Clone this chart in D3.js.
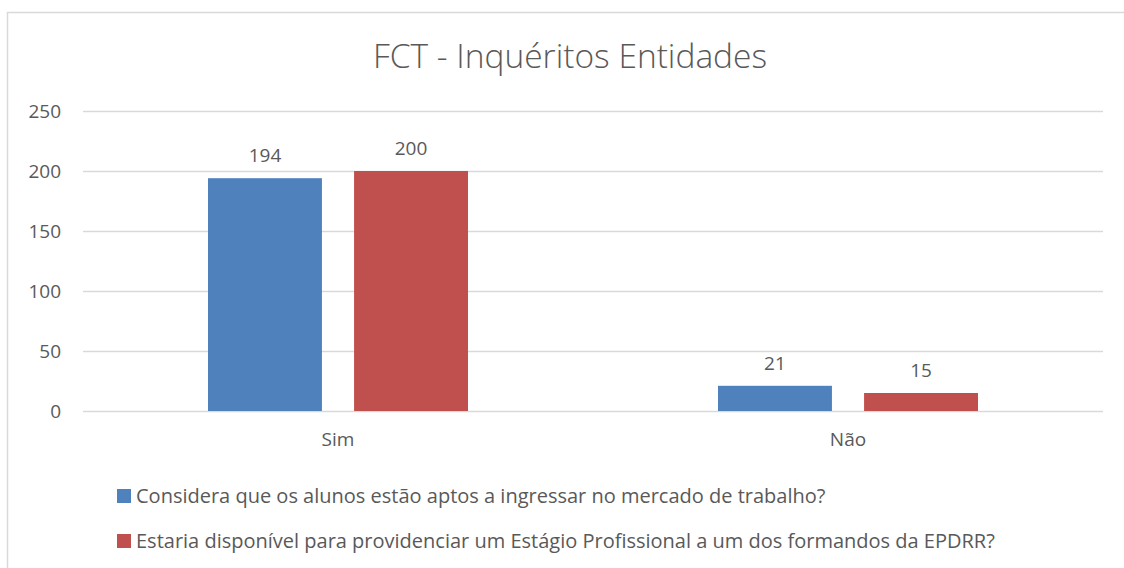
<!DOCTYPE html>
<html>
<head>
<meta charset="utf-8">
<script src="https://cdn.jsdelivr.net/npm/d3@7"></script>
<style>
  body { margin: 0; background: #fff; }
  svg text { font-family: "Open Sans", Lato, sans-serif; fill: #595959; }
</style>
</head>
<body>
<div id="chart"></div>
<script>
const WIDTH = 1124, HEIGHT = 568;
const M = { top: 111, right: 21, bottom: 157, left: 83 };
const innerW = WIDTH - M.left - M.right;
const innerH = HEIGHT - M.top - M.bottom;

const categories = ["Sim", "Não"];
const seriesNames = [
  "Considera que os alunos estão aptos a ingressar no mercado de trabalho?",
  "Estaria disponível para providenciar um Estágio Profissional a um dos formandos da EPDRR?"
];
const aptos = [194, 21];
const estagio = [200, 15];
const yTicks = [0, 50, 100, 150, 200, 250];
const colors = ["#4F81BD", "#C0504D"];

const svg = d3.select("#chart").append("svg")
  .attr("width", WIDTH).attr("height", HEIGHT);

// chart border
svg.append("rect").attr("x", 7.5).attr("y", 12.5)
  .attr("width", WIDTH).attr("height", HEIGHT)
  .attr("fill", "#fff").attr("stroke", "#d9d9d9").attr("stroke-width", 1.5);

svg.append("text").attr("x", 570).attr("y", 68)
  .attr("text-anchor", "middle").style("font-size", "33.5px").style("font-weight", 300)
  .text("FCT - Inquéritos Entidades");

const g = svg.append("g").attr("transform", `translate(${M.left},${M.top})`);

const x = d3.scaleBand().domain(categories).range([0, innerW]).paddingInner(0).paddingOuter(0);
const xs = d3.scaleBand().domain([0, 1]).range([125, x.bandwidth() - 125]).paddingInner(0.22);
const y = d3.scaleLinear().domain([0, 250]).range([innerH, 0]);

// gridlines
g.append("g").selectAll("line").data(yTicks).join("line")
  .attr("x1", 0).attr("x2", innerW)
  .attr("y1", d => y(d) + 0.5).attr("y2", d => y(d) + 0.5)
  .attr("stroke", "#d9d9d9").attr("stroke-width", 1.5);

const yAxis = g.append("g").call(d3.axisLeft(y).tickValues(yTicks).tickSize(0).tickPadding(22));
yAxis.select(".domain").remove();
yAxis.selectAll("text").style("font-size", "19px").attr("fill", "#595959");

const xAxis = g.append("g").attr("transform", `translate(0,${innerH})`)
  .call(d3.axisBottom(x).tickSize(0).tickPadding(22));
xAxis.select(".domain").remove();
xAxis.selectAll("text").style("font-size", "19px").attr("fill", "#595959");

const rows = categories.map((c, i) => ({ cat: c, vals: [aptos[i], estagio[i]] }));

const groups = g.selectAll(".grp").data(rows).join("g")
  .attr("transform", d => `translate(${x(d.cat)},0)`);

groups.selectAll("rect").data(d => d.vals.map((v, k) => ({ k, v }))).join("rect")
  .attr("x", d => xs(d.k)).attr("width", xs.bandwidth())
  .attr("y", d => y(d.v)).attr("height", d => innerH - y(d.v))
  .attr("fill", d => colors[d.k]);

groups.selectAll(".lbl").data(d => d.vals.map((v, k) => ({ k, v }))).join("text")
  .attr("class", "lbl")
  .attr("x", d => xs(d.k) + xs.bandwidth() / 2)
  .attr("y", d => y(d.v) - 16)
  .attr("text-anchor", "middle").style("font-size", "19px")
  .text(d => d.v);

// legend
const leg = svg.append("g").attr("transform", "translate(117,489)");
seriesNames.forEach((name, i) => {
  const row = leg.append("g").attr("transform", `translate(0,${i * 45})`);
  row.append("rect").attr("width", 14).attr("height", 14).attr("fill", colors[i]);
  row.append("text").attr("x", 19).attr("y", 14).style("font-size", "20px").text(name);
});
</script>
</body>
</html>
